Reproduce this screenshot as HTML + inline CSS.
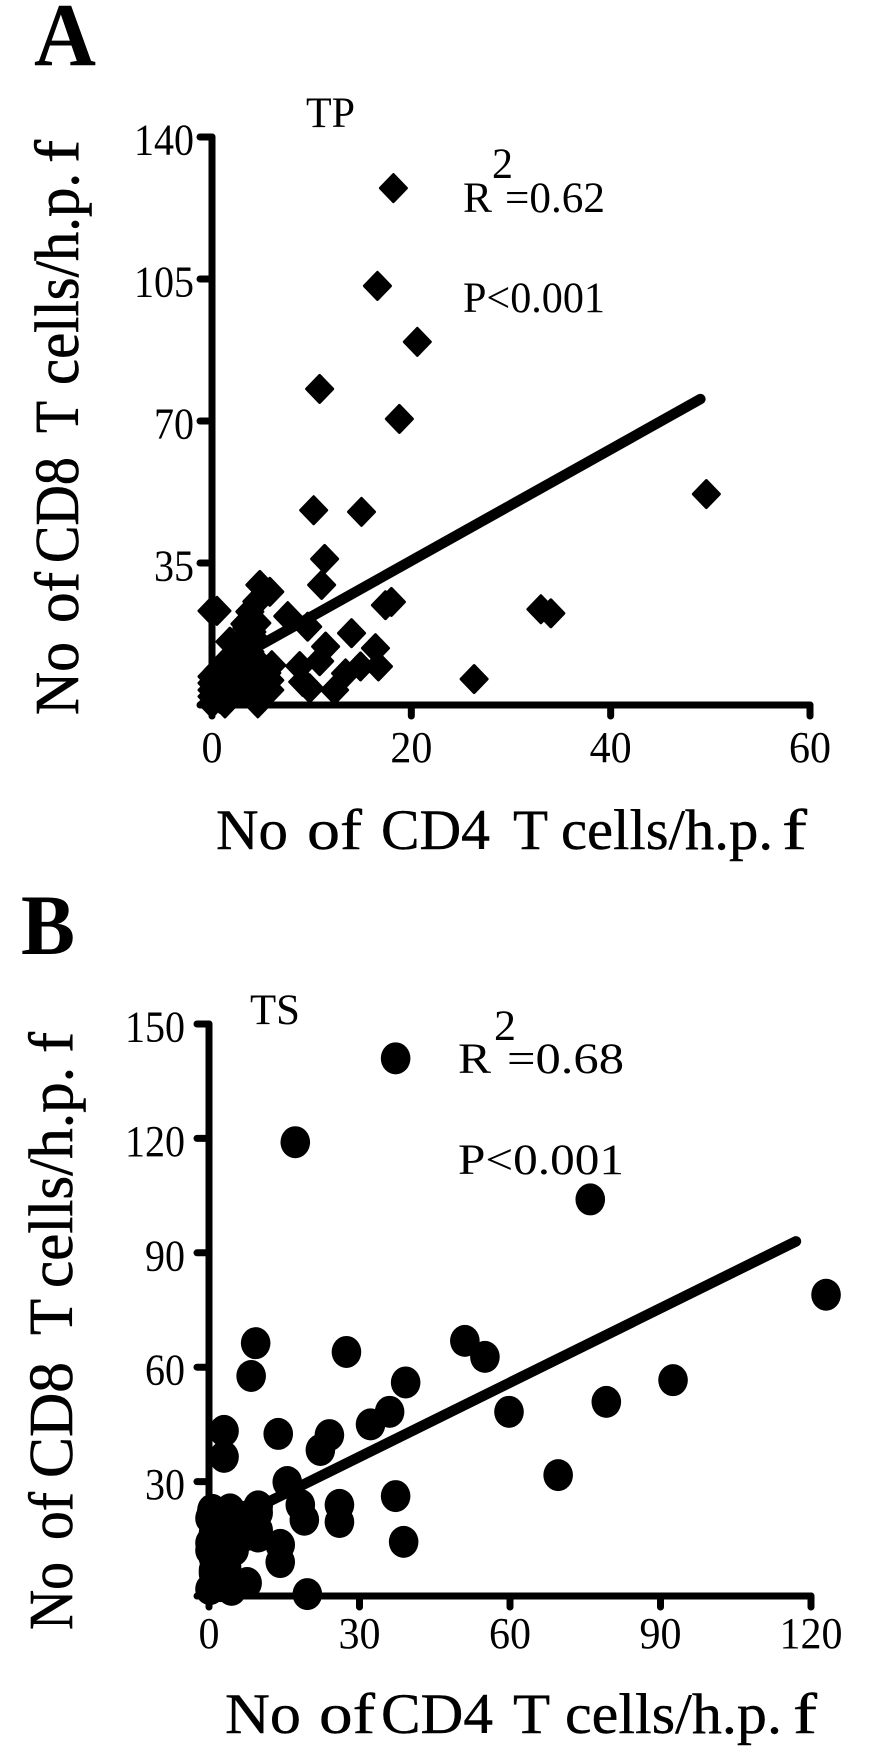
<!DOCTYPE html>
<html>
<head>
<meta charset="utf-8">
<title>CD4 vs CD8 T cell scatter plots</title>
<style>
html,body{margin:0;padding:0;background:#fff;}
svg{display:block;}
text{font-family:"Liberation Serif",serif;fill:#000;}
</style>
</head>
<body>
<svg id="fig" xmlns="http://www.w3.org/2000/svg" width="881" height="1755" viewBox="0 0 881 1755">
  <rect width="881" height="1755" fill="#fff"/>
  <text x="34" y="65" font-size="90" font-weight="bold" textLength="62" lengthAdjust="spacingAndGlyphs">A</text>
  <text x="21" y="954" font-size="86" font-weight="bold" textLength="54" lengthAdjust="spacingAndGlyphs">B</text>

  <text x="306" y="127" font-size="43" textLength="49" lengthAdjust="spacingAndGlyphs">TP</text>
  <text x="250" y="1024" font-size="43" textLength="50" lengthAdjust="spacingAndGlyphs">TS</text>

  <g>
    <text x="463" y="212" font-size="43" textLength="29" lengthAdjust="spacingAndGlyphs">R</text>
    <text x="492" y="178" font-size="43" textLength="21" lengthAdjust="spacingAndGlyphs">2</text>
    <text x="505" y="212" font-size="43" textLength="100" lengthAdjust="spacingAndGlyphs">=0.62</text>
  </g>
  <text x="463" y="312" font-size="43" textLength="142" lengthAdjust="spacingAndGlyphs">P&lt;0.001</text>

  <g>
    <text x="458" y="1073" font-size="43" textLength="33" lengthAdjust="spacingAndGlyphs">R</text>
    <text x="494" y="1040" font-size="43" textLength="22" lengthAdjust="spacingAndGlyphs">2</text>
    <text x="507" y="1073" font-size="43" textLength="117" lengthAdjust="spacingAndGlyphs">=0.68</text>
  </g>
  <text x="458" y="1174" font-size="43" textLength="166" lengthAdjust="spacingAndGlyphs">P&lt;0.001</text>

  <text y="849" font-size="57" stroke="#000" stroke-width="0.4">
    <tspan x="216" textLength="72" lengthAdjust="spacingAndGlyphs">No</tspan>
    <tspan x="307" textLength="55" lengthAdjust="spacingAndGlyphs">of</tspan>
    <tspan x="381" textLength="109" lengthAdjust="spacingAndGlyphs">CD4</tspan>
    <tspan x="513" textLength="34" lengthAdjust="spacingAndGlyphs">T</tspan>
    <tspan x="561" textLength="212" lengthAdjust="spacingAndGlyphs">cells/h.p.</tspan>
    <tspan x="782" textLength="25" lengthAdjust="spacingAndGlyphs">f</tspan>
  </text>
  <text y="1733" font-size="57" stroke="#000" stroke-width="0.4">
    <tspan x="225" textLength="76" lengthAdjust="spacingAndGlyphs">No</tspan>
    <tspan x="319" textLength="56" lengthAdjust="spacingAndGlyphs">of</tspan>
    <tspan x="381" textLength="112" lengthAdjust="spacingAndGlyphs">CD4</tspan>
    <tspan x="513" textLength="36" lengthAdjust="spacingAndGlyphs">T</tspan>
    <tspan x="565" textLength="217" lengthAdjust="spacingAndGlyphs">cells/h.p.</tspan>
    <tspan x="793" textLength="24" lengthAdjust="spacingAndGlyphs">f</tspan>
  </text>
  <text transform="translate(78,0) rotate(-90)" y="0" font-size="62" stroke="#000" stroke-width="0.6">
    <tspan x="-715" textLength="73" lengthAdjust="spacingAndGlyphs">No</tspan>
    <tspan x="-623" textLength="51" lengthAdjust="spacingAndGlyphs">of</tspan>
    <tspan x="-563" textLength="106" lengthAdjust="spacingAndGlyphs">CD8</tspan>
    <tspan x="-433" textLength="31" lengthAdjust="spacingAndGlyphs">T</tspan>
    <tspan x="-385" textLength="212" lengthAdjust="spacingAndGlyphs">cells/h.p.</tspan>
    <tspan x="-163" textLength="23" lengthAdjust="spacingAndGlyphs">f</tspan>
  </text>
  <text transform="translate(72,0) rotate(-90)" y="0" font-size="62" stroke="#000" stroke-width="0.6">
    <tspan x="-1630" textLength="68" lengthAdjust="spacingAndGlyphs">No</tspan>
    <tspan x="-1540" textLength="48" lengthAdjust="spacingAndGlyphs">of</tspan>
    <tspan x="-1478" textLength="116" lengthAdjust="spacingAndGlyphs">CD8</tspan>
    <tspan x="-1335" textLength="35" lengthAdjust="spacingAndGlyphs">T</tspan>
    <tspan x="-1288" textLength="221" lengthAdjust="spacingAndGlyphs">cells/h.p.</tspan>
    <tspan x="-1053" textLength="21" lengthAdjust="spacingAndGlyphs">f</tspan>
  </text>
</svg>
<script>
// Panel A (TP) data
const tpXTicks = [0, 20, 40, 60];
const tpYTicks = [35, 70, 105, 140];
const tpCD4 = [18.2,16.6,20.6,10.8,18.8,49.6,10.2,15.0,11.3,11.0,4.8,5.8,4.5,0,0.5,7.6,9.6,4.5,18,17.4,14,11.4,10.8,16.4,16.7,14.9,13.4,8.8,9.1,9.8,12.3,26.3,33,34,1.8,2.6,3.5,6,5.8,0,0,0,1.3,1.3,1.3,2.5,2.5,2.5,3.8,3.8,3.8,5.1,5.1,5.5,5.8,4.6,3.3,4.1,3.8,1.3,2.5,3.8,3,0.6,0.6,1.9,1.9,3.1,3.1,4.4,4.4,4.4,1.9,0.6,0,0,5.5,0.8,0.8,0.8,0.8,0.8,2,2,2,2,2,3,3,3,3,3,3,4.2,4.2,4.2,4.2,4.2,5.2,5.2,5.2,1.5,2.5,3,3.5,4,3.3];
const tpCD8 = [127.4,103.3,89.5,77.9,70.5,52,48,47.6,36,29.6,29.6,27.9,25.5,23.2,23.2,21.9,19.3,20.2,25.4,24.6,17.7,14.4,10.8,14,9.5,9.5,7.8,9.6,5.7,4.1,3.7,6.4,23.6,22.6,15.6,14.3,16,9.8,6.1,0.4,7,3.7,0.4,0.4,3.7,7,9.9,6.2,4.1,10.3,7,4.1,9.4,6.2,3.7,0.4,16.4,16.8,23,9.9,12.5,13.1,14.3,5.4,2.1,5.4,2.1,5.4,7.9,5.4,8.3,2.9,8.3,8.6,2.1,5.4,7.9,1.5,3,4.5,6,7.5,3,4.5,6,7.5,9,3.5,4.5,6,7.5,9,11,3.5,6,7.5,9,11,3,4.5,7.5,11,11,12.5,19,18,20];
const tpFitX = [0, 49];
const tpFitY = [8.1, 75.4];

// Panel B (TS) data
const tsXTicks = [0, 30, 60, 90, 120];
const tsYTicks = [30, 60, 90, 120, 150];
const tsCD4 = [37.2,17.2,76,123,9.3,27.4,51,55,39.2,92.5,8.4,36,32.2,59.8,79.2,3,13.8,24,22.2,3,69.6,15.6,37.2,38.8,26,26,18.2,19,19.6,14.2,14.2,7.6,9.8,9.8,0.6,0.2,0.2,3.5,3.5,3.5,6.1,0.9,0.2,2.5,2.3,4.5,3.5,0.9,6.5,7.5,0.5,3.5,0.9,0.2,3.5,0.9,6.1,3.5,8,8.8,9.8,9.4,9.8,4.2,0.9,2.2,1.5,1.5,1.5,1.5,1.5,3,3,3,3,5,5,5,1,1,2.8,7,8,7.5];
const tsCD8 = [141,119,104,79,66.3,64,66.9,62.7,56,56.6,57.7,48.3,45,48.3,50.9,43.3,42.5,42.2,38.3,36.5,31.7,29.9,26.2,14.2,23.9,19.4,23.9,20,0.5,13.4,8.9,3.4,21.8,17.3,22.6,20.4,13.9,20.4,13.9,17,20.8,5.9,1.8,6.8,2.6,1.6,11.2,10,17,16,21.7,16.5,16.5,12,7.7,2.5,16.5,13,16.5,20,23.5,21,15.6,22.7,6.8,7.7,19,15,11,8,4,19,15.5,12,8.5,19,15,12,14,10,4.5,19,21,18];
const tsFitX = [0, 117];
const tsFitY = [17, 93];

const NS = 'http://www.w3.org/2000/svg';
const svg = document.getElementById('fig');

function scale(p0, pxPerUnit) { return function (v) { return p0 + v * pxPerUnit; }; }

const ax = scale(212, 598 / 60), ay = scale(705, -568 / 140);
const bx = scale(209, 602 / 120), by = scale(1596, -572 / 150);

function make(tag, attrs, parent, content) {
  const el = document.createElementNS(NS, tag);
  for (const k in attrs) el.setAttribute(k, attrs[k]);
  if (content !== undefined) el.textContent = content;
  parent.appendChild(el);
  return el;
}

function drawAxes(prefix, sx, sy, xTicks, yTicks, xMax, yMax, xBase, yRight) {
  const g = make('g', { stroke: '#000', 'stroke-width': 7, 'stroke-linecap': 'round', fill: 'none' }, svg);
  
  

  const yAxis = make('line', { x1: sx(0), x2: sx(0), y1: sy(yMax), y2: sy(0) }, g);
  
  

  const xAxis = make('line', { x1: sx(0), x2: sx(xMax), y1: sy(0), y2: sy(0) }, g);
  
  

  const originTick = make('line', { x1: sx(0) - 12, x2: sx(0), y1: sy(0), y2: sy(0) }, g);
  
  

  xTicks.forEach(function (t) {
    const tick = make('line', { x1: sx(t), x2: sx(t), y1: sy(0), y2: sy(0) + 11 }, g);
    
    
    const label = make('text', {
      x: sx(t), y: xBase, 'font-size': 44, 'text-anchor': 'middle',
      textLength: String(t).length * 21, lengthAdjust: 'spacingAndGlyphs'
    }, svg, String(t));
    
    
  });

  yTicks.forEach(function (t) {
    const tick = make('line', { x1: sx(0) - 12, x2: sx(0), y1: sy(t), y2: sy(t) }, g);
    
    
    const label = make('text', {
      x: yRight, y: sy(t) + 17.5, 'font-size': 44, 'text-anchor': 'end',
      textLength: String(t).length * 20, lengthAdjust: 'spacingAndGlyphs'
    }, svg, String(t));
    
    
  });
}

function drawFit(prefix, sx, sy, xs, ys) {
  const line = make('line', {
    x1: sx(xs[0]), y1: sy(ys[0]), x2: sx(xs[1]), y2: sy(ys[1]),
    stroke: '#000', 'stroke-width': 10.5, 'stroke-linecap': 'round'
  }, svg);
  
  
}

function drawDiamonds(prefix, sx, sy, xs, ys) {
  const g = make('g', { fill: '#000', stroke: '#000', 'stroke-width': 3, 'stroke-linejoin': 'round' }, svg);
  
  
  xs.forEach(function (v, i) {
    const cx = sx(v), cy = sy(ys[i]), r = 13;
    const pts = [[cx, cy - r - 0.5], [cx + r, cy], [cx, cy + r + 0.5], [cx - r, cy]].map(function (p) { return p.join(','); }).join(' ');
    const mark = make('polygon', { points: pts }, g);
    
    
  });
}

function drawCircles(prefix, sx, sy, xs, ys) {
  const g = make('g', { fill: '#000' }, svg);
  
  
  xs.forEach(function (v, i) {
    const mark = make('ellipse', { cx: sx(v), cy: sy(ys[i]), rx: 14.8, ry: 16 }, g);
    
    
  });
}

drawAxes('tp', ax, ay, tpXTicks, tpYTicks, 60, 140, 762, 194);
drawFit('tp', ax, ay, tpFitX, tpFitY);
drawDiamonds('tp', ax, ay, tpCD4, tpCD8);

drawAxes('ts', bx, by, tsXTicks, tsYTicks, 120, 150, 1648, 185);
drawFit('ts', bx, by, tsFitX, tsFitY);
drawCircles('ts', bx, by, tsCD4, tsCD8);
</script>
</body>
</html>
